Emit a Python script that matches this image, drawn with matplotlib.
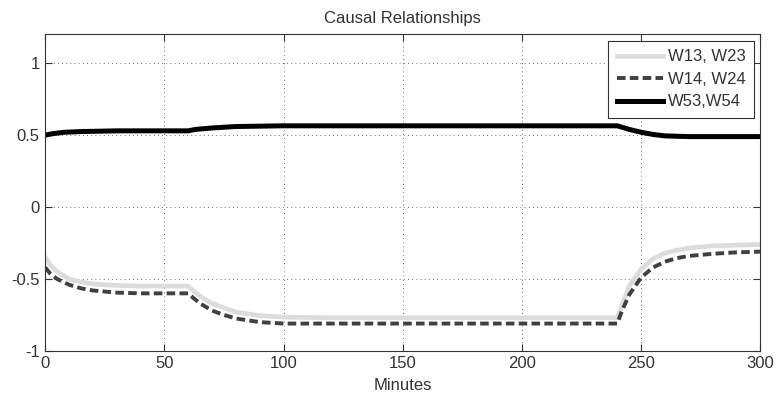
import numpy as np
import matplotlib
matplotlib.use("Agg")
import matplotlib.pyplot as plt
from matplotlib.ticker import FormatStrFormatter

plt.rcParams['font.family'] = ['Liberation Sans', 'DejaVu Sans']
plt.rcParams['axes.unicode_minus'] = False

########## data ##########

t_w13 = [0, 2, 5, 10, 15, 20, 30, 40, 50, 60, 62, 65, 70, 75, 80, 90, 100, 120,
         160, 200, 240, 242, 245, 250, 255, 260, 265, 270, 280, 290, 300]
w13 = [-0.35, -0.40, -0.45, -0.50, -0.52, -0.535, -0.545, -0.55, -0.55, -0.55,
       -0.58, -0.62, -0.67, -0.70, -0.73, -0.755, -0.765, -0.77,
       -0.77, -0.77, -0.77, -0.68, -0.55, -0.43, -0.36, -0.32, -0.30, -0.285,
       -0.27, -0.265, -0.26]

t_w14 = [0, 2, 5, 10, 15, 20, 30, 40, 50, 60, 62, 65, 70, 75, 80, 90, 100, 120,
         160, 200, 240, 242, 245, 250, 255, 260, 265, 270, 280, 290, 300]
w14 = [-0.42, -0.46, -0.50, -0.54, -0.565, -0.58, -0.595, -0.60, -0.60, -0.60,
       -0.63, -0.67, -0.72, -0.75, -0.775, -0.80, -0.81, -0.81,
       -0.81, -0.81, -0.81, -0.72, -0.61, -0.49, -0.42, -0.38, -0.355, -0.34,
       -0.325, -0.315, -0.31]

t_w53 = [0, 3, 8, 15, 30, 60, 63, 70, 80, 100, 160, 240, 245, 250, 255, 260, 270, 300]
w53 = [0.50, 0.51, 0.52, 0.525, 0.53, 0.53, 0.54, 0.55, 0.56, 0.565, 0.565, 0.565,
       0.54, 0.52, 0.505, 0.495, 0.49, 0.49]

x_ticks = [0, 50, 100, 150, 200, 250, 300]
y_ticks = [-1, -0.5, 0, 0.5, 1]

########## figure ##########

fs = 12
fig = plt.figure(figsize=(7.79, 4.01), dpi=100)
ax = fig.add_axes([0.058, 0.125, 0.918, 0.789])

ax.plot(t_w13, w13, color='#dcdcdc', lw=3.4, label='W13, W23')
ax.plot(t_w14, w14, color='#404040', lw=2.8, ls=(0, (2.2, 1.1)), label='W14, W24')
ax.plot(t_w53, w53, color='black', lw=3.6, label='W53,W54')

ax.set_xlim(0, 300)
ax.set_ylim(-1, 1.2)
ax.set_xticks(x_ticks)
ax.set_yticks(y_ticks)
ax.yaxis.set_major_formatter(FormatStrFormatter('%g'))
ax.tick_params(direction='in', top=True, right=True, length=5, width=0.8,
               labelsize=fs, colors='#333333', labelcolor='#333333', pad=4)
ax.grid(True, color='#444444', ls=(0, (1, 4)), lw=0.6)
for s in ax.spines.values():
    s.set_color('#333333')
    s.set_linewidth(0.8)

ax.set_title('Causal Relationships', fontsize=fs, color='#333333', pad=8)
ax.set_xlabel('Minutes', fontsize=fs, color='#333333', labelpad=5)

leg = ax.legend(loc='upper right', fontsize=fs, fancybox=False, framealpha=1,
                edgecolor='#333333', handlelength=2.8, handletextpad=0.25,
                labelspacing=0.45, borderpad=0.5, borderaxespad=0.4)
leg.get_frame().set_linewidth(0.8)
for txt in leg.get_texts():
    txt.set_color('#333333')

fig.savefig('out.png', dpi=100)
